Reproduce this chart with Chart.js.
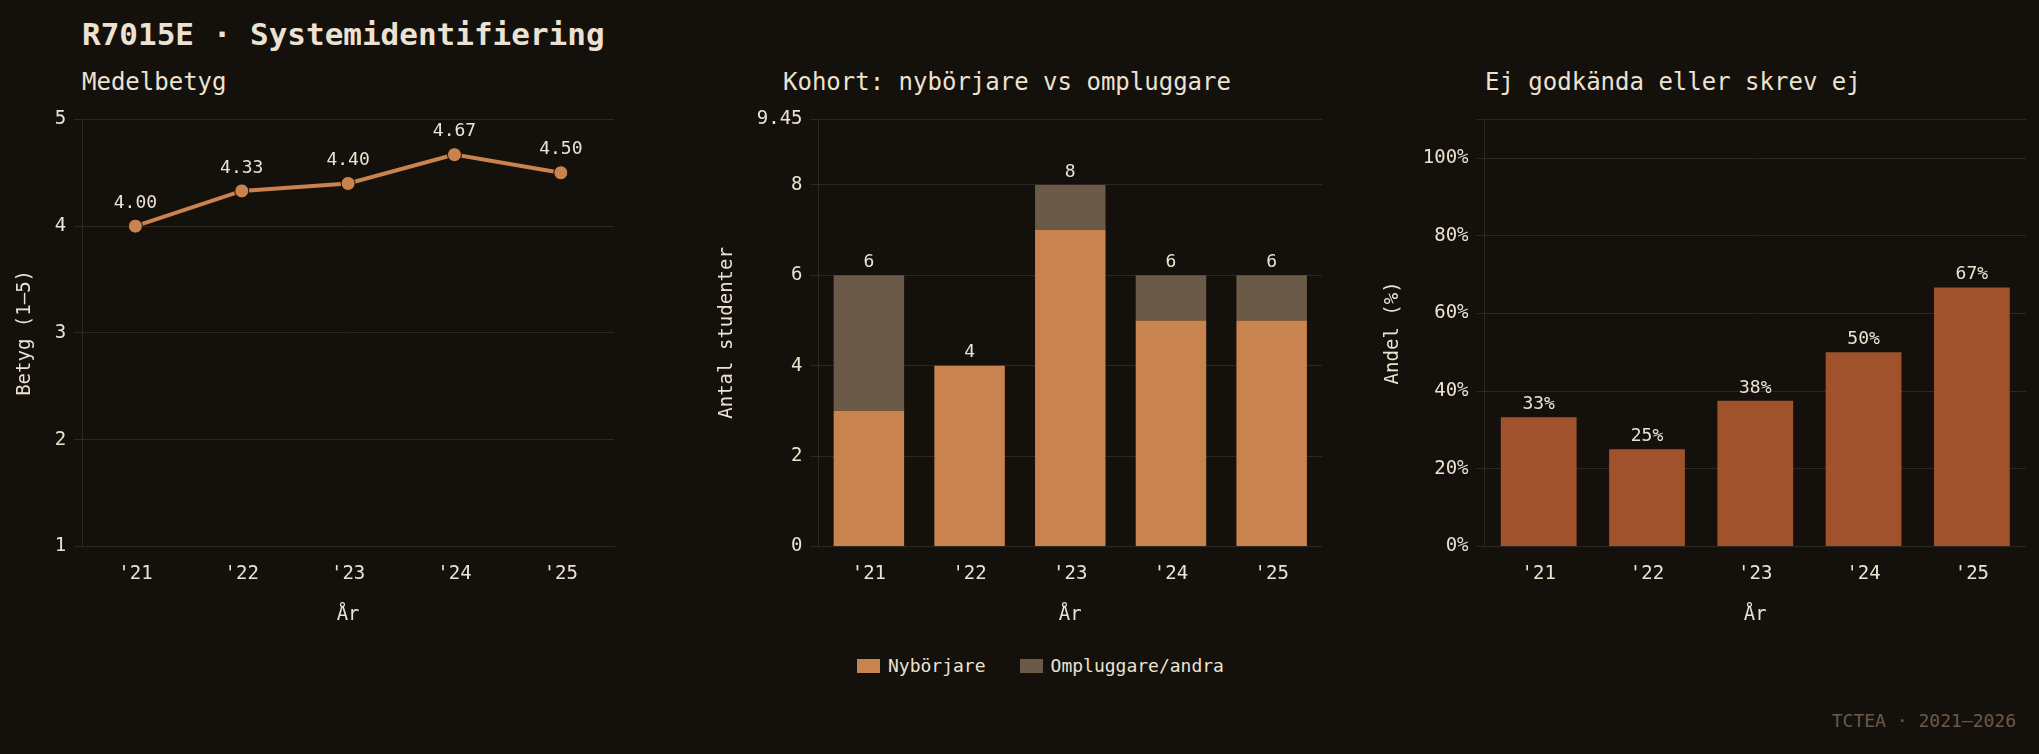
<!DOCTYPE html>
<html><head><meta charset="utf-8">
<script src="https://cdn.jsdelivr.net/npm/chart.js@4/dist/chart.umd.min.js"></script>
<style>
body{margin:0;background:#14100c;width:2039px;height:754px;overflow:hidden;font-family:"DejaVu Sans Mono",monospace;color:#ece2d2;position:relative}
.t{position:absolute;white-space:nowrap}
canvas{position:absolute}
.sw{display:inline-block;width:23px;height:14px;vertical-align:-1px;margin-right:8px}
</style></head><body>
<div class="t" style="left:82px;top:16px;font-size:31px;font-weight:bold">R7015E · Systemidentifiering</div>
<div class="t" style="left:82px;top:68px;font-size:24px">Medelbetyg</div>
<div class="t" style="left:783px;top:68px;font-size:24px">Kohort: nybörjare vs ompluggare</div>
<div class="t" style="left:1485px;top:68px;font-size:24px">Ej godkända eller skrev ej</div>
<div class="t" style="left:857px;top:655px;font-size:18px"><span class="sw" style="background:#c8834e"></span>Nybörjare<span class="sw" style="background:#6b5a48;margin-left:34px"></span>Ompluggare/andra</div>
<div class="t" style="right:23px;top:710px;font-size:18px;color:#6b5a48">TCTEA · 2021–2026</div>
<canvas id="c1" style="left:10px;top:100px" width="612" height="540"></canvas>
<canvas id="c2" style="left:712px;top:100px" width="610" height="540"></canvas>
<canvas id="c3" style="left:1378px;top:100px" width="648" height="540"></canvas>
<script>
const years=["'21","'22","'23","'24","'25"];
const grade=[4.00,4.33,4.40,4.67,4.50];
const newcomers=[3,4,7,5,5];
const retakers=[3,0,1,1,1];
const failPct=[33.3,25,37.5,50,66.7];
const TXT='#ece2d2',GRID='#2e2822',F='DejaVu Sans Mono';
Chart.defaults.font.family=F;Chart.defaults.font.size=19;Chart.defaults.color=TXT;
Chart.defaults.animation=false;
function labels(fmt,off){return{id:'lbl',afterDatasetsDraw(ch){const ctx=ch.ctx;ctx.save();ctx.fillStyle=TXT;ctx.font='18px '+F;ctx.textAlign='center';ctx.textBaseline='bottom';
 const last=ch.data.datasets.length-1;
 ch.getDatasetMeta(last).data.forEach((el,i)=>ctx.fillText(fmt(i),el.x,el.y-off));ctx.restore();}};}
function scales(ymin,ymax,step,title,cb,stack){return{
 x:{stacked:stack,offset:true,grid:{display:false},border:{color:GRID},ticks:{padding:8},title:{display:true,text:'År',padding:{top:10}}},
 y:{stacked:stack,min:ymin,max:ymax,grid:{color:GRID},border:{color:GRID},ticks:{stepSize:step,padding:8,callback:cb},title:{display:true,text:title,padding:{bottom:10}}}}}
const base={responsive:false,layout:{padding:{top:14,bottom:10}},plugins:{legend:{display:false},tooltip:{enabled:false}}};
new Chart(document.getElementById('c1'),{type:'line',data:{labels:years,datasets:[{data:grade,borderColor:'#c8834e',backgroundColor:'#c8834e',borderWidth:4,pointRadius:7,pointBorderColor:'#14100c',pointBorderWidth:1}]},
 options:Object.assign({},base,{scales:scales(1,5,1,'Betyg (1–5)',v=>v,false)}),plugins:[labels(i=>grade[i].toFixed(2),14)]});
new Chart(document.getElementById('c2'),{type:'bar',data:{labels:years,datasets:[{data:newcomers,backgroundColor:'#c8834e',categoryPercentage:0.7,barPercentage:1},{data:retakers,backgroundColor:'#6b5a48',categoryPercentage:0.7,barPercentage:1}]},
 options:Object.assign({},base,{scales:scales(0,9.45,2,'Antal studenter',v=>v,true)}),plugins:[labels(i=>String(newcomers[i]+retakers[i]),4)]});
new Chart(document.getElementById('c3'),{type:'bar',data:{labels:years,datasets:[{data:failPct,backgroundColor:'#a0522d',categoryPercentage:0.7,barPercentage:1}]},
 options:Object.assign({},base,{scales:scales(0,110,20,'Andel (%)',v=>v%20===0?v+'%':'',false)}),plugins:[labels(i=>Math.round(failPct[i])+'%',4)]});
</script></body></html>
